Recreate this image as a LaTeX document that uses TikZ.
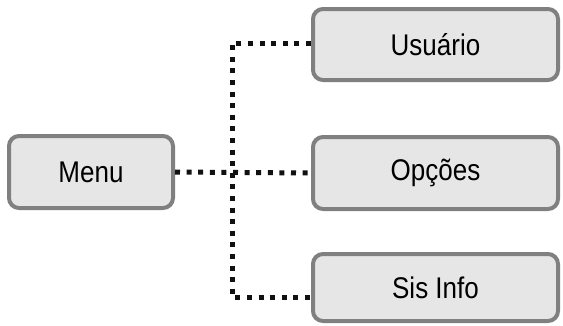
\documentclass[tikz,border=0pt]{standalone}
\usepackage{fontspec}
\setmainfont{Liberation Sans}
\usepackage{tikz}
\definecolor{boxfill}{HTML}{E6E6E6}
\definecolor{boxline}{HTML}{808080}
\definecolor{dotline}{HTML}{111111}
\newcommand{\tall}[1]{\scalebox{1}[1.15]{#1}}

\begin{document}
\begin{tikzpicture}[x=1pt,y=1pt,font=\fontsize{26}{30}\selectfont,
item/.style={draw=boxline, fill=boxfill, line width=4pt, rounded corners=10pt,
    minimum width=245pt, minimum height=71pt, anchor=center, inner sep=0pt},
link/.style={draw=dotline, line width=5pt, dash pattern=on 5pt off 6.6pt}]
\useasboundingbox (0,0) rectangle (563,325);
\node[item, minimum width=164pt, minimum height=72pt] (menu) at (91,153) {\tall{Menu}};
\node[item] (usuario) at (435.5,280.5) {\tall{Usuário}};
\node[item, minimum height=72pt] (opcoes) at (435.5,152) {\tall{Opções}};
\node[item, minimum height=67pt] (sisinfo) at (435.5,37.5) {\tall{Sis Info}};
\coordinate (top) at (232,282);
\coordinate (bottom) at (232,28);
\draw[link] (menu.east) -- (opcoes.west);
\draw[link] (usuario.west |- top) -- (top) -- (bottom) -- (sisinfo.west |- bottom);
\end{tikzpicture}
\end{document}
